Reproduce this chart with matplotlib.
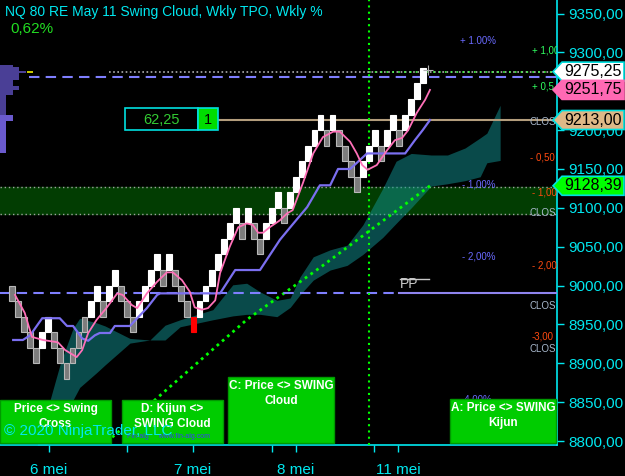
import matplotlib
matplotlib.use('Agg')
import matplotlib.pyplot as plt
from matplotlib.patches import Rectangle, Polygon
import matplotlib.transforms as mtransforms

plt.rcParams['font.family'] = ['Liberation Sans', 'DejaVu Sans']

# renko bricks, 20 pts each (open -> close)
brick_open = [9000, 8980, 8960, 8940, 8920, 8920, 8940, 8940, 8920, 8900,
              8900, 8920, 8940, 8960, 8980, 8980, 8980, 9000, 9000, 8980,
              8960, 8960, 8980, 9000, 9020, 9020, 9020, 9020, 9000, 8980,
              8960, 8960, 8980, 9000, 9020, 9040, 9060, 9080, 9080, 9080,
              9080, 9060, 9060, 9080, 9100, 9100, 9100, 9120, 9140, 9160,
              9180, 9200, 9200, 9200, 9200, 9180, 9160, 9140, 9140, 9160,
              9180, 9180, 9180, 9200, 9200, 9200, 9220, 9240, 9260]
brick_close = [8980, 8960, 8940, 8920, 8900, 8940, 8960, 8920, 8900, 8880,
               8920, 8940, 8960, 8980, 9000, 8960, 9000, 9020, 8980, 8960,
               8940, 8980, 9000, 9020, 9040, 9000, 9040, 9000, 8980, 8960,
               8940, 8980, 9000, 9020, 9040, 9060, 9080, 9100, 9060, 9100,
               9060, 9040, 9080, 9100, 9120, 9080, 9120, 9140, 9160, 9180,
               9200, 9220, 9180, 9220, 9180, 9160, 9140, 9120, 9160, 9180,
               9200, 9160, 9200, 9220, 9180, 9220, 9240, 9260, 9280]
ghost_up = [10, 11, 12]
signal_bar = [30]

pink_x = [0.5, 2.1, 3.3, 5.1, 7.6, 8.8, 10.7, 11.6, 12.6, 14.0, 15.7, 17.4,
          18.3, 19.8, 20.7, 22.3, 24.0, 25.6, 26.6, 28.1, 29.4, 30.2, 31.4,
          32.4, 33.6, 34.4, 36.0, 37.4, 38.8, 39.8, 40.7, 41.5, 42.6, 44.3,
          45.5, 46.4, 48.1, 49.8, 51.4, 53.1, 54.2, 55.9, 57.0, 57.9, 58.8,
          60.3, 62.0, 63.3, 64.5, 65.5, 66.9, 68.3, 69.1]
pink_y = [8988, 8965, 8934, 8930, 8927, 8917, 8908, 8917, 8939, 8956, 8972,
          8990, 8988, 8975, 8971, 8990, 9005, 9017, 9017, 9007, 8992, 8972,
          8969, 8971, 8981, 9016, 9050, 9075, 9080, 9078, 9068, 9068, 9075,
          9084, 9093, 9097, 9132, 9170, 9191, 9198, 9198, 9185, 9170, 9155,
          9149, 9155, 9174, 9187, 9190, 9200, 9222, 9239, 9251.75]

kijun_x = [0.2, 1.8, 3.0, 5.0, 7.9, 9.1, 10.1, 11.6, 12.6, 13.7, 14.5, 16.2,
           17.0, 19.5, 20.7, 22.3, 24.0, 24.5, 32.2, 34.4, 36.9, 41.0, 44.3,
           46.0, 48.8, 50.9, 52.6, 53.9, 55.9, 58.7, 65.0, 66.6, 67.9, 69.1]
kijun_y = [8930, 8930, 8936, 8958, 8958, 8948, 8948, 8932, 8929, 8936, 8939,
           8939, 8948, 8948, 8958, 8971, 8988, 8990, 8990, 8990, 9020, 9020,
           9059, 9075, 9101, 9129, 9129, 9150, 9150, 9170, 9170, 9187, 9200,
           9213]

cloud_x = [4.0, 6.3, 8.0, 10.1, 11.2, 14.0, 15.4, 19.5, 22.8, 25.3, 27.8,
           33.2, 36.5, 38.8, 41.0, 43.8, 46.0, 47.6, 49.8, 52.6, 55.4, 58.0,
           61.3, 63.5, 66.0, 69.3, 72.0, 74.9, 77.4, 78.5, 80.7]
cloud_top = [8790, 8853, 8900, 8945, 8958, 8952, 8948, 8932, 8930, 8949,
             8956, 8969, 9001, 9003, 8992, 8981, 8984, 9011, 9037, 9046,
             9052, 9078, 9125, 9160, 9170, 9168, 9168, 9177, 9190, 9196,
             9232]
cloud_bot = [8780, 8800, 8820, 8853, 8869, 8888, 8898, 8926, 8930, 8930,
             8947, 8956, 8961, 8963, 8963, 8960, 8972, 8988, 9007, 9020,
             9026, 9040, 9062, 9080, 9100, 9128, 9131, 9135, 9140, 9158,
             9161]

trend_x = [15.7, 38.8, 50.9, 69.1]
trend_y = [8799, 8956, 9023, 9128.39]

profile_hi = [9284, 9281, 9276, 9273.5, 9264, 9257, 9252, 9245, 9219, 9212]
profile_lo = [9281, 9276, 9273.5, 9264, 9257, 9252, 9245, 9219, 9212, 9170]
profile_w = [2.15, 3.1, 4.3, 3.1, 2.15, 3.1, 2.15, 1.0, 2.15, 1.0]

day_ticks = [6.1, 29.9, 46.9, 63.8]
day_labels = ['6 mei', '7 mei', '8 mei', '11 mei']
session_ticks = [19.0, 43.0, 59.9]

last_price = 9275.25
fast_ma = 9251.75
kijun_close = 9213.00
trend_end = 9128.39
band_lo, band_hi = 9092, 9127
poc_price = 9268
pp_price = 8990
signal_x = 59.0

CYAN = '#00e8f0'
W, H = 625, 476

fig = plt.figure(figsize=(W / 100, H / 100), dpi=100, facecolor='black')
ax = fig.add_axes([0, 31 / H, 557 / W, 445 / H])
ax.set_facecolor('black')
ax.set_xlim(-1.98, 90.1)
ax.set_ylim(8794.9, 9367.4)


def px(x, y):
    return (x / W, 1 - y / H)


# band + edges
ax.axhspan(band_lo, band_hi, color='#023d02', zorder=0)
for v in (band_lo, band_hi):
    ax.axhline(v, color='#a0a0a0', ls=(0, (1, 2)), lw=1, zorder=1)

# cloud
ax.fill_between(cloud_x, cloud_bot, cloud_top, color='#139494', alpha=0.5,
                lw=0, zorder=2)

# trend dotted
ax.plot(trend_x, trend_y, color='#00ff00', ls=(0, (1, 1.5)), lw=2, zorder=3)

# horizontal levels
ax.plot([16, 90.1], [last_price, last_price], color='#b0b0b0',
        ls=(0, (1, 1.5)), lw=1.2, zorder=3)
ax.plot([signal_x, 90.1], [last_price, last_price], color='#40ff40',
        ls=(0, (1, 2.5)), lw=1.2, zorder=3)
ax.plot([2.8, 90.1], [poc_price, poc_price], color='#7f7fff',
        ls=(0, (5, 3)), lw=1.5, zorder=3)
ax.plot([-1.98, 64], [pp_price, pp_price], color='#7f7fff',
        ls=(0, (5, 3)), lw=1.5, zorder=3)
ax.plot([64, 90.1], [pp_price, pp_price], color='#8f84ee', lw=1.5, zorder=3)
ax.plot([34, 90.1], [kijun_close, kijun_close], color='#b39d7c', lw=1.5,
        zorder=3)

ax.axvline(signal_x, color='#00ff00', ls=(0, (1, 2)), lw=1.5, zorder=3)

# profile
for hi, lo, w in zip(profile_hi, profile_lo, profile_w):
    c = '#4a3f96' if lo >= 9219 else '#6a5acd'
    ax.barh((hi + lo) / 2, w, height=hi - lo, left=-1.98, color=c, lw=0,
            zorder=3)
ax.barh(9275, 1.0, height=2, left=2.5, color='#c8c800', lw=0, zorder=3)

# bricks
for i, (o, c) in enumerate(zip(brick_open, brick_close)):
    if i in signal_bar:
        fc, ec = '#ff0000', '#ff0000'
    elif c > o and i not in ghost_up:
        fc, ec = 'white', 'white'
    else:
        fc, ec = '#7c7c7c', '#b8b8b8'
    ax.add_patch(Rectangle((i - 0.48, min(o, c)), 0.96, abs(c - o),
                           facecolor=fc, edgecolor=ec, lw=0.8, zorder=4))
ax.plot(len(brick_open) - 0.3, 9277, marker='+', color='#b0b0b0', ms=7,
        mew=0.8, zorder=5)

ax.plot(kijun_x, kijun_y, color='#7b6ff0', lw=1.6, zorder=5)
ax.plot(pink_x, pink_y, color='#ff70b8', lw=1.3, zorder=6)

# axes styling
for s in ('left', 'top'):
    ax.spines[s].set_visible(False)
for s in ('right', 'bottom'):
    ax.spines[s].set_color(CYAN)
    ax.spines[s].set_linewidth(1.2)
ax.yaxis.tick_right()
yt = list(range(8800, 9351, 50))
ax.set_yticks(yt)
ax.set_yticklabels(['' if v == 9250 else f'{v},00' for v in yt])
ax.tick_params(axis='y', colors=CYAN, length=5, width=1, labelsize=11, pad=3)
ax.set_xticks(day_ticks)
ax.set_xticklabels(day_labels)
ax.set_xticks(session_ticks, minor=True)
ax.tick_params(axis='x', which='both', colors=CYAN, length=5, width=1,
               labelsize=11, pad=8)

# level texts at right edge
bt = mtransforms.blended_transform_factory(ax.transAxes, ax.transData)
lvl = [(0.826, 9315, '+ 1.00%', '#6a6aff'), (0.955, 9302, '+ 1,00', '#30ff60'),
       (0.955, 9256, '+ 0,5', '#30ff60'), (0.951, 9211, 'CLOS', '#a8b8cc'),
       (0.951, 9165, '- 0,50', '#ff4a10'), (0.829, 9130, '- 1,00%', '#6a6aff'),
       (0.955, 9120, '- 1,00', '#ff4a10'), (0.951, 9093, 'CLOS', '#a8b8cc'),
       (0.829, 9038, '- 2,00%', '#6a6aff'), (0.955, 9026, '- 2,00', '#ff4a10'),
       (0.951, 8974, 'CLOS', '#a8b8cc'), (0.955, 8934, '-3,00', '#ff4a10'),
       (0.951, 8918, 'CLOS', '#a8b8cc'), (0.829, 8853, '-4,00%', '#6a6aff'),
       (0.964, 8843, '-4,00', '#ff4a10'), (0.951, 8818, 'CLOS', '#a8b8cc')]

# signal boxes
boxes = [(0, 400, 111, 43, 'Price <> Swing\nCross'),
         (122, 400, 101, 43, 'D: Kijun <>\nSWING Cloud'),
         (228, 377, 106, 66, 'C: Price <> SWING\nCloud'),
         (450, 399, 106, 44, 'A: Price <> SWING\nKijun')]
for x0, y0, w, h, t in boxes:
    fig.patches.append(Rectangle(px(x0, y0 + h), w / W, h / H,
                                 transform=fig.transFigure, facecolor='#00cc00',
                                 edgecolor='#009900', lw=1, zorder=1))
    fig.text(*px(x0 + w / 2, y0 + 3), t, color='white', fontsize=8.5,
             fontweight='bold', ha='center', va='top', linespacing=1.3,
             zorder=4)

for x, y, t, c in lvl:
    ax.text(x, y, t, transform=bt, color=c, fontsize=7, va='center',
            ha='left', clip_on=True, zorder=7)

fig.text(*px(127, 436), 'Fin-alg     www.fin-alg.com', color='#3a3aff',
         fontsize=5, va='center', zorder=5)
fig.text(*px(4, 431), '\u00a9 2020 NinjaTrader, LLC', color=CYAN,
         fontsize=11, va='center', zorder=5)

# PP label
ax.text(64.2, 8993, 'PP', color='#c8c8c8', fontsize=10, va='bottom',
        zorder=7)
ax.plot([64.2, 69], [9008, 9008], color='#c8c8c8', lw=1, zorder=7)

# value box
fig.patches.append(Rectangle(px(125, 130), 73 / W, 22 / H,
                             transform=fig.transFigure, facecolor='black',
                             edgecolor='#00e0e0', lw=1.2, zorder=2))
fig.patches.append(Rectangle(px(198, 130), 20 / W, 22 / H,
                             transform=fig.transFigure, facecolor='#00dd00',
                             edgecolor='#00e0e0', lw=1.2, zorder=2))
fig.text(*px(161, 120), '62,25', color='#33cc33', fontsize=10.5,
         ha='center', va='center', zorder=5)
fig.text(*px(208, 120), '1', color='black', fontsize=10.5, ha='center',
         va='center', zorder=5)

# price tags
tags = [(last_price, '9275,25', 'white', '#00e0e0'),
        (fast_ma, '9251,75', '#ff69b4', '#ff69b4'),
        (kijun_close, '9213,00', '#deb887', '#00e0e0'),
        (trend_end, '9128,39', '#00ff00', '#00e0e0')]
for price, t, fc, ec in tags:
    yc = H - ax.transData.transform((0, price))[1]
    pts = [px(553, yc), px(562, yc - 9.5), px(624, yc - 9.5),
           px(624, yc + 9.5), px(562, yc + 9.5)]
    fig.patches.append(Polygon(pts, closed=True, transform=fig.transFigure,
                               facecolor=fc, edgecolor=ec, lw=1.2, zorder=2))
    fig.text(*px(593, yc), t, color='black', fontsize=11.5, ha='center',
             va='center', zorder=5)

fig.text(*px(5, 12), 'NQ 80 RE May 11 Swing Cloud, Wkly TPO, Wkly %',
         color=CYAN, fontsize=10, va='center', zorder=5)
fig.text(*px(10, 29), '0,62%', color='#22dd22', fontsize=11, va='center',
         zorder=5)

fig.savefig('out.png', dpi=100, facecolor='black')
